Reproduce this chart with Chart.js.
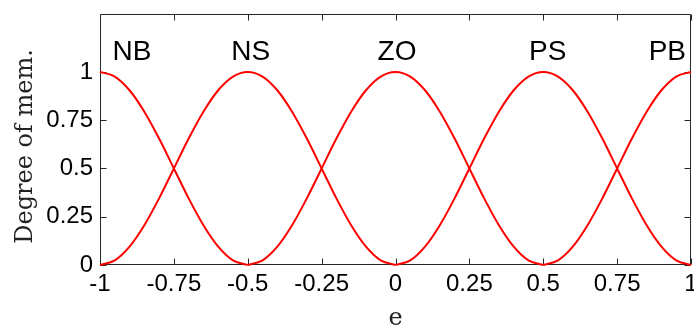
<!DOCTYPE html>
<html>
<head>
<meta charset="utf-8">
<script src="https://cdn.jsdelivr.net/npm/chart.js@4.4.1/dist/chart.umd.min.js"></script>
<style>
  html, body { margin: 0; padding: 0; background: #ffffff; }
  #wrap { width: 694px; height: 325px; }
</style>
</head>
<body>
<div id="wrap"><canvas id="c" width="694" height="325"></canvas></div>
<script>
// ---- data ----
const e = [-1,-0.95,-0.9,-0.85,-0.8,-0.75,-0.7,-0.65,-0.6,-0.55,-0.5,-0.45,-0.4,-0.35,-0.3,-0.25,-0.2,-0.15,-0.1,-0.05,0,0.05,0.1,0.15,0.2,0.25,0.3,0.35,0.4,0.45,0.5,0.55,0.6,0.65,0.7,0.75,0.8,0.85,0.9,0.95,1];

const NB = [1,0.976,0.905,0.794,0.655,0.5,0.345,0.206,0.095,0.024,0,
  null,null,null,null,null,null,null,null,null,null,
  null,null,null,null,null,null,null,null,null,null,
  null,null,null,null,null,null,null,null,null,null];
const NS = [0,0.024,0.095,0.206,0.345,0.5,0.655,0.794,0.905,0.976,1,
  0.976,0.905,0.794,0.655,0.5,0.345,0.206,0.095,0.024,0,
  null,null,null,null,null,null,null,null,null,null,
  null,null,null,null,null,null,null,null,null,null];
const ZO = [null,null,null,null,null,null,null,null,null,null,
  0,0.024,0.095,0.206,0.345,0.5,0.655,0.794,0.905,0.976,1,
  0.976,0.905,0.794,0.655,0.5,0.345,0.206,0.095,0.024,0,
  null,null,null,null,null,null,null,null,null,null];
const PS = [null,null,null,null,null,null,null,null,null,null,
  null,null,null,null,null,null,null,null,null,null,
  0,0.024,0.095,0.206,0.345,0.5,0.655,0.794,0.905,0.976,1,
  0.976,0.905,0.794,0.655,0.5,0.345,0.206,0.095,0.024,0];
const PB = [null,null,null,null,null,null,null,null,null,null,
  null,null,null,null,null,null,null,null,null,null,
  null,null,null,null,null,null,null,null,null,null,
  0,0.024,0.095,0.206,0.345,0.5,0.655,0.794,0.905,0.976,1];

const xTicks = [-1,-0.75,-0.5,-0.25,0,0.25,0.5,0.75,1];
const xTickLabels = ["-1","-0.75","-0.5","-0.25","0","0.25","0.5","0.75","1"];
const yTicks = [0,0.25,0.5,0.75,1];
const yTickLabels = ["0","0.25","0.5","0.75","1"];

const setNames = ["NB","NS","ZO","PS","PB"];
const setLabelX = [-0.892,-0.49,0.005,0.515,0.92];
const setLabelY = [1.1,1.1,1.1,1.1,1.1];

const xTitle = "e";
const yTitle = "Degree of mem.";

// ---- chart ----
const series = [NB, NS, ZO, PS, PB];
const datasets = series.map((s, k) => ({
  label: setNames[k],
  data: s.map((v, i) => ({ x: e[i], y: v })),
  borderColor: '#ff0000',
  borderWidth: 2,
  pointRadius: 0,
  fill: false,
  spanGaps: false,
  cubicInterpolationMode: 'monotone',
  clip: false
}));

const AXIS = '#262626';
const TICK_LEN = 6;

function noPad(s) {
  s.paddingLeft = 0; s.paddingRight = 0; s.paddingTop = 0; s.paddingBottom = 0;
}

const decor = {
  id: 'decor',
  beforeDatasetsDraw(chart) {
    const { ctx, chartArea: a, scales: { x, y } } = chart;
    ctx.save();
    ctx.strokeStyle = AXIS;
    ctx.lineWidth = 1;
    const L = Math.round(a.left) + 0.5, R = Math.round(a.right) - 0.5;
    const T = Math.round(a.top) + 0.5, B = Math.round(a.bottom) - 0.5;
    ctx.beginPath();
    ctx.moveTo(L, T); ctx.lineTo(R, T); ctx.lineTo(R, B); ctx.lineTo(L, B); ctx.closePath();
    xTicks.forEach(v => {
      const px = Math.round(x.getPixelForValue(v)) + 0.5;
      ctx.moveTo(px, B); ctx.lineTo(px, B - TICK_LEN);
      ctx.moveTo(px, T); ctx.lineTo(px, T + TICK_LEN);
    });
    yTicks.forEach(v => {
      const py = Math.round(y.getPixelForValue(v)) + 0.5;
      ctx.moveTo(L, py); ctx.lineTo(L + TICK_LEN, py);
      ctx.moveTo(R, py); ctx.lineTo(R - TICK_LEN, py);
    });
    ctx.stroke();
    ctx.restore();
  },
  afterDraw(chart) {
    const { ctx, chartArea: a, scales: { x, y } } = chart;
    ctx.save();
    ctx.fillStyle = '#000000';
    ctx.font = '28px "Liberation Sans", Arial, sans-serif';
    ctx.textAlign = 'center';
    ctx.textBaseline = 'middle';
    setNames.forEach((n, i) => {
      ctx.fillText(n, x.getPixelForValue(setLabelX[i]), y.getPixelForValue(setLabelY[i]));
    });
    // axis titles
    ctx.fillStyle = '#222222';
    ctx.font = '24px "DejaVu Serif", serif';
    ctx.textBaseline = 'alphabetic';
    ctx.fillText(xTitle, (a.left + a.right) / 2, 325);
    ctx.translate(32, 146.5);
    ctx.rotate(-Math.PI / 2);
    ctx.fillText(yTitle, 0, 0);
    ctx.restore();
  }
};

new Chart(document.getElementById('c'), {
  type: 'line',
  data: { datasets },
  options: {
    responsive: false,
    devicePixelRatio: 1,
    animation: false,
    events: [],
    layout: { autoPadding: false, padding: { top: 14, right: 3, left: 0, bottom: 0 } },
    plugins: { legend: { display: false }, tooltip: { enabled: false }, title: { display: false } },
    scales: {
      x: {
        type: 'linear',
        min: -1, max: 1,
        grid: { display: false, drawTicks: false },
        border: { display: false },
        afterBuildTicks: s => { s.ticks = xTicks.map(v => ({ value: v })); },
        afterFit: s => { s.height = 60; noPad(s); },
        ticks: {
          color: '#000000',
          padding: 5,
          maxRotation: 0,
          autoSkip: false,
          font: { family: '"Liberation Sans", Arial, sans-serif', size: 24 },
          callback: (v, i) => xTickLabels[i]
        }
      },
      y: {
        type: 'linear',
        min: 0, max: 1.3,
        grid: { display: false, drawTicks: false },
        border: { display: false },
        afterBuildTicks: s => { s.ticks = yTicks.map(v => ({ value: v })); },
        afterFit: s => { s.width = 100; noPad(s); },
        ticks: {
          color: '#000000',
          padding: 7,
          autoSkip: false,
          font: { family: '"Liberation Sans", Arial, sans-serif', size: 24 },
          callback: (v, i) => yTickLabels[i]
        }
      }
    }
  },
  plugins: [decor]
});
</script>
</body>
</html>
